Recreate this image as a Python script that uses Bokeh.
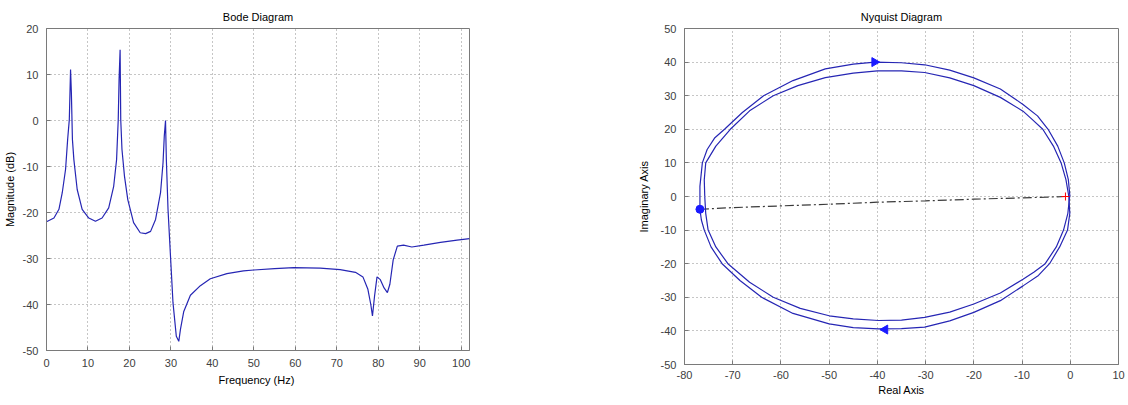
from bokeh.plotting import figure
from bokeh.layouts import row
from bokeh.models import Range1d, SingleIntervalTicker, CustomJSTickFormatter
from bokeh.embed import file_html
from bokeh.resources import INLINE
import math

# ---------------- Bode data ----------------
bode_freq = [0, 1.8, 3.0, 3.8, 4.6, 5.1, 5.5, 5.8, 6.0, 6.25, 6.6, 7.4, 8.6, 10.2, 11.8,
             13.4, 15.0, 16.2, 16.9, 17.3, 17.5, 17.75, 17.9, 18.2, 18.8, 19.6, 21.0,
             22.6, 23.9, 25.1, 26.3, 27.5, 28.1, 28.4, 28.7, 28.9, 29.3, 29.9, 30.5,
             31.3, 31.9, 32.3, 33.1, 34.7, 37.1, 39.5, 43.5, 47.5, 50, 55, 59.6, 66,
             70.8, 74.5, 76.3, 77.5, 78.2, 78.6, 79.1, 79.7, 80.5, 81.4, 82.2, 82.8,
             83.6, 84.6, 86.1, 88.1, 91, 95, 99, 102]
bode_mag = [-22.0, -21.2, -19.3, -15.7, -10.6, -4.1, 0.2, 11.1, 6.0, -4.1, -8.5, -15.0,
            -19.3, -21.2, -21.9, -21.2, -19.0, -14.3, -8.5, 0.2, 8.9, 15.4, 0.2, -6.3,
            -12.1, -17.2, -22.2, -24.4, -24.6, -24.1, -21.5, -15.7, -9.2, -3.4, 0.0,
            -8.5, -19.3, -29.5, -39.6, -46.9, -48.0, -45.4, -41.5, -38.0, -35.9, -34.4,
            -33.3, -32.7, -32.5, -32.2, -32.0, -32.1, -32.4, -33.0, -34.0, -36.7, -40.0,
            -42.5, -38.2, -34.0, -34.6, -36.4, -37.4, -35.6, -30.3, -27.3, -27.1, -27.5,
            -27.1, -26.5, -26.0, -25.7]

# ---------------- Nyquist data ----------------
# positive-frequency branch: outer top -> right -> inner bottom
nyq_a_re = [-76.8, -76.8, -76.3, -75.3, -73.7, -71.7, -68.0, -63.6, -57.5, -50.8, -45.0,
            -40.5, -35.0, -30.2, -25.0, -20.0, -14.5, -9.8, -6.8, -4.6, -2.6, -1.25, -0.4,
            -0.1, -0.5, -1.4, -2.9, -5.2, -7.5, -9.8, -14.5, -20.0, -25.0, -30.2, -35.0,
            -39.8, -45.0, -50.0, -56.0, -61.6, -66.5, -71.0, -73.5, -75.1, -75.6, -75.8]
nyq_a_im = [-3.8, 3.0, 10.0, 14.0, 17.5, 20.0, 25.0, 30.0, 34.5, 38.0, 39.4, 40.0, 39.8,
            39.2, 37.6, 35.3, 32.0, 27.4, 24.0, 20.0, 15.0, 10.0, 5.0, 0.4, -5.0, -10.0,
            -15.0, -20.0, -22.5, -24.6, -28.7, -32.0, -34.4, -36.0, -36.8, -36.9, -36.4,
            -35.5, -33.3, -30.0, -25.5, -20.0, -15.0, -10.0, -5.0, 0.0]
# negative-frequency branch: outer bottom -> right -> inner top
nyq_b_re = [-76.8, -76.5, -75.9, -74.5, -72.2, -68.5, -64.0, -57.5, -50.0, -45.0, -39.8,
            -35.0, -30.2, -25.0, -20.0, -14.5, -9.8, -6.6, -4.3, -2.2, -0.57, -0.1, -0.3,
            -0.9, -1.9, -3.5, -5.7, -7.8, -9.8, -14.5, -20.0, -25.0, -30.2, -35.0, -40.0,
            -45.0, -50.8, -56.5, -61.6, -66.5, -70.5, -73.5, -75.6, -75.9, -75.8]
nyq_b_im = [-3.8, -7.0, -10.0, -15.0, -20.0, -25.0, -30.0, -34.8, -37.9, -39.0, -39.4,
            -39.3, -38.9, -37.0, -34.5, -31.0, -26.6, -23.5, -20.0, -15.0, -10.0, -5.0,
            0.0, 5.0, 10.0, 15.0, 20.0, 22.8, 25.4, 29.5, 33.0, 35.3, 36.9, 37.4, 37.4,
            36.7, 35.4, 33.0, 30.0, 25.5, 20.0, 15.0, 10.0, 5.0, 0.0]
# dash-dot line from start point to the critical point
link_re = [-76.8, -70, -60, -50, -40, -30, -20, -10, -5, -1]
link_im = [-3.8, -3.3, -2.8, -2.3, -1.7, -1.3, -0.8, -0.4, -0.2, 0.0]
start_re, start_im = [-76.8], [-3.8]
crit_re, crit_im = [-1.0], [0.0]
arrow_re = [-40.6, -38.4]
arrow_im = [40.0, -39.6]
arrow_angle = [-math.pi / 2, math.pi / 2]

FONT = "Liberation Sans"
BLUE = "#2626b4"
AXCOL = "#7a7a7a"


def style(p, xlabel, ylabel, tick):
    p.background_fill_color = "white"
    p.border_fill_color = "white"
    p.outline_line_color = AXCOL
    p.title.text_font = FONT
    p.title.text_font_size = "11px"
    p.title.text_font_style = "normal"
    p.title.text_color = "black"
    p.title.align = "center"
    p.title.padding = dict(left=0, right=0, top=2, bottom=0)
    p.title.standoff = 12
    for ax in (p.xaxis[0], p.yaxis[0]):
        ax.ticker = SingleIntervalTicker(interval=tick)
        ax.formatter = CustomJSTickFormatter(code="return String(tick);")
        ax.major_tick_in = 4
        ax.major_tick_out = 0
        ax.minor_tick_line_color = None
        ax.axis_line_color = AXCOL
        ax.major_tick_line_color = AXCOL
        ax.major_label_text_font = FONT
        ax.major_label_text_font_size = "11px"
        ax.major_label_text_color = "#404040"
        ax.major_label_standoff = 4
        ax.axis_label_text_font = FONT
        ax.axis_label_text_font_size = "11px"
        ax.axis_label_text_font_style = "normal"
        ax.axis_label_text_color = "black"
    p.xaxis[0].axis_label = xlabel
    p.yaxis[0].axis_label = ylabel
    for g in (p.xgrid[0], p.ygrid[0]):
        g.ticker = SingleIntervalTicker(interval=tick)
        g.grid_line_color = "#8c8c8c"
        g.grid_line_dash = "1 3"
        g.grid_line_width = 1


# ---------------- Bode figure ----------------
p1 = figure(frame_width=423, frame_height=322, min_border_left=38, min_border_right=165,
            min_border_top=24, min_border_bottom=35,
            x_range=Range1d(0, 102), y_range=Range1d(-50, 20),
            title="Bode Diagram", toolbar_location=None, output_backend="svg")
style(p1, "Frequency  (Hz)", "Magnitude (dB)", 10)
p1.yaxis[0].axis_label_standoff = 4
p1.xaxis[0].axis_label_standoff = 4
p1.line(bode_freq, bode_mag, line_color=BLUE, line_width=1.2)

# ---------------- Nyquist figure ----------------
p2 = figure(frame_width=434, frame_height=336, min_border_left=45, min_border_right=7,
            min_border_top=24, min_border_bottom=30,
            x_range=Range1d(-80, 10), y_range=Range1d(-50, 50),
            title="Nyquist Diagram", toolbar_location=None, output_backend="svg")
style(p2, "Real Axis", "Imaginary Axis", 10)
p2.yaxis[0].axis_label_standoff = 8
p2.xaxis[0].major_label_standoff = 2
p2.xaxis[0].axis_label_standoff = 2
p2.line(link_re, link_im, line_color="#3a3a3a", line_width=1.2, line_dash="9 3 2 3")
p2.line(nyq_a_re, nyq_a_im, line_color=BLUE, line_width=1.2)
p2.line(nyq_b_re, nyq_b_im, line_color=BLUE, line_width=1.2)
p2.scatter(arrow_re, arrow_im, marker="triangle", angle=arrow_angle, size=9,
           fill_color="#1a1aff", line_color="#1a1aff")
p2.scatter(start_re, start_im, marker="circle", size=8, fill_color="#1a1aff",
           line_color="#1a1aff")
p2.scatter(crit_re, crit_im, marker="cross", size=8, line_color="red", line_width=1)

layout = row(p1, p2)
open("out.html", "w").write(file_html(layout, INLINE))
